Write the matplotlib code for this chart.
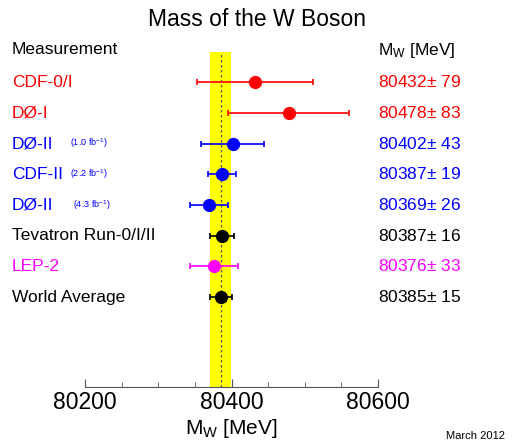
import matplotlib.pyplot as plt
import matplotlib.transforms as mtransforms
from matplotlib.ticker import MultipleLocator

plt.rcParams['font.family'] = ['Liberation Sans', 'DejaVu Sans']
plt.rcParams['mathtext.default'] = 'regular'

# W mass measurements (MeV)
names = ['CDF-0/I', 'DØ-I', 'DØ-II', 'CDF-II', 'DØ-II',
         'Tevatron Run-0/I/II', 'LEP-2', 'World Average']
lumi = ['', '', '(1.0 fb$^{-1}$)', '(2.2 fb$^{-1}$)', '(4.3 fb$^{-1}$)', '', '', '']
mass = [80432, 80478, 80402, 80387, 80369, 80387, 80376, 80385]
err = [79, 83, 43, 19, 26, 16, 33, 15]
colors = ['#ff0000', '#ff0000', '#0000ff', '#0000ff', '#0000ff',
          'black', '#ff00ff', 'black']
world_avg = 80385
world_err = 15

fig = plt.figure(figsize=(5.13, 4.44), dpi=100)
ax = fig.add_axes([85 / 513, 57 / 444, 293 / 513, 335 / 444])

n = len(names)
rows = list(range(n))
ax.set_xlim(80200, 80600)
ax.set_ylim(n - 1 + 2.93, -0.98)

# world average band and central value
ax.axvspan(world_avg - world_err, world_avg + world_err, color='#ffff00', lw=0, zorder=0)
ax.axvline(world_avg, color='#555555', ls=(0, (2, 2)), lw=0.9, zorder=1)

for i in rows:
    ax.errorbar(mass[i], i, xerr=err[i], fmt='o', color=colors[i], ms=8.5,
                elinewidth=1.2, capsize=2, capthick=1.2, zorder=3)

for s in ['top', 'left', 'right']:
    ax.spines[s].set_visible(False)
ax.spines['bottom'].set_color('#555555')
ax.set_yticks([])
ax.xaxis.set_major_locator(MultipleLocator(200))
ax.xaxis.set_minor_locator(MultipleLocator(50))
ax.tick_params(axis='x', which='major', direction='in', length=6, color='#555555',
               labelsize=16.5, pad=3)
ax.tick_params(axis='x', which='minor', direction='in', length=3.5, color='#555555')
ax.set_xlabel('M$_{W}$ [MeV]', fontsize=15, labelpad=2)

trans = mtransforms.blended_transform_factory(fig.transFigure, ax.transData)
fig.text(12 / 513, 1 - 50 / 444, 'Measurement', ha='left', va='center', fontsize=12.5)
fig.text(378 / 513, 1 - 50 / 444, 'M$_{W}$ [MeV]', ha='left', va='center', fontsize=12.5)
fig.text(0.5, 1 - 20 / 444, 'Mass of the W Boson', ha='center', va='center', fontsize=16.5)
fig.text(505 / 513, 1 - 436 / 444, 'March 2012', ha='right', va='center', fontsize=8)

lumi_x = [0, 0, 70, 70, 73, 0, 0, 0]
for i in rows:
    ax.text(12 / 513, i, names[i], transform=trans, ha='left', va='center',
            fontsize=12.5, color=colors[i])
    if lumi[i]:
        ax.text(lumi_x[i] / 513, i, lumi[i], transform=trans, ha='left', va='center',
                fontsize=6.5, color=colors[i])
    ax.text(378 / 513, i, f'{mass[i]}$\\pm$ {err[i]}', transform=trans, ha='left',
            va='center', fontsize=12.5, color=colors[i])

fig.savefig('out.png', dpi=100)
